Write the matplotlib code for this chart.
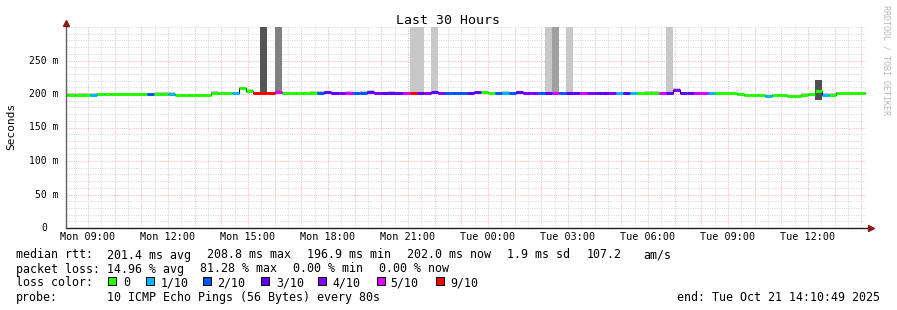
import numpy as np
import pandas as pd
import matplotlib
matplotlib.use('Agg')
import matplotlib.pyplot as plt
import matplotlib.dates as mdates
from matplotlib.patches import Rectangle

# 16 minute consolidated steps, Mon 08:00 .. Tue 14:24
step_start = '2025-10-20 08:00'
n_steps = 114

# median rtt per step (ms)
median_ms = [
    199, 199, 199, 199, 199, 200, 200, 200, 200, 200,
    200, 200, 199.5, 200, 200, 199.5, 198.5, 198.5, 198.5, 198.5,
    198.5, 201.5, 201.5, 201.5, 201, 208.8, 205, 201.5, 201.5, 201.5,
    202.5, 201.5, 201.5, 201.5, 201.5, 201.5, 201.5, 202.5, 202, 201,
    201.5, 201.5, 201.5, 202.5, 201, 201.5, 201.5, 201.5, 201.5, 201.5,
    201, 201.5, 203, 201.5, 201.5, 201.5, 201.5, 201.5, 203, 203.5,
    202, 201.5, 201.5, 201.5, 203, 201.5, 201.5, 201.5, 201.5, 201.5,
    201.5, 201.5, 201.5, 202, 201.5, 201.5, 201.5, 201.5, 201.5, 201.5,
    201.5, 201.5, 201.5, 201.5, 201.5, 201.5, 206.5, 201.5, 201.5, 201.5,
    201.5, 201.5, 201.5, 201, 201, 199.5, 198, 198, 198, 196.9,
    198, 198, 197.3, 197.3, 198, 199.5, 204.5, 198.5, 199, 202,
    202, 202, 202, 202,
]

# lost pings (out of 10) per step
loss = [
    0, 0, 0, 0, 1, 0, 0, 0, 0, 0,
    0, 0, 2, 0, 0, 1, 0, 0, 0, 0,
    0, 0, 0, 0, 1, 0, 0, 9, 9, 9,
    5, 0, 0, 0, 0, 0, 2, 3, 3, 4,
    5, 2, 2, 3, 4, 3, 3, 3, 5, 9,
    3, 4, 3, 4, 2, 2, 2, 3, 3, 0,
    0, 2, 1, 2, 3, 4, 4, 2, 3, 5,
    2, 3, 3, 5, 4, 3, 3, 4, 1, 3,
    1, 0, 0, 0, 5, 3, 4, 3, 3, 5,
    5, 1, 0, 0, 0, 0, 0, 0, 0, 1,
    0, 0, 0, 0, 0, 0, 0, 1, 0, 0,
    0, 0, 0, 0,
]

# upper edge of the light smoke per step (ms)
smoke_hi = [
    201, 201, 201, 201, 201, 201, 201, 201, 202, 202,
    201, 201, 201, 203.5, 203.5, 202.5, 200, 200, 200, 200,
    200, 204, 203, 203, 203, 211, 207, 203, 203, 203,
    204, 203, 203, 203, 203, 204, 204, 204, 203, 203,
    204, 203, 204, 206, 203, 203, 204.5, 203, 203, 203,
    203, 203, 204, 203, 203, 203.5, 203, 203, 204, 204.5,
    203, 203, 204, 203, 204, 203, 203, 203, 203, 203,
    203, 203, 203, 203, 203, 203, 203, 203, 203, 203,
    203, 203, 204, 205, 203, 203, 209, 203, 203, 203,
    203, 203, 203, 202.5, 202, 201, 200, 200, 199.5, 199,
    200, 200.5, 199, 199, 201, 201, 206, 201, 202, 203,
    203, 203, 203, 203,
]

# big smoke columns: step index, bottom, top (ms), shade
spike_step = [28, 30, 49, 50, 52, 68, 69, 71, 85, 106]
spike_lo = [200, 200, 200, 200, 200, 200, 200, 200, 200, 191]
spike_hi = [330, 330, 330, 330, 330, 330, 330, 330, 330, 221]
spike_shade = ['#555555', '#808080', '#c8c8c8', '#c8c8c8', '#c8c8c8',
               '#c8c8c8', '#a0a0a0', '#c8c8c8', '#c8c8c8', '#505050']

loss_codes = [0, 1, 2, 3, 4, 5, 9]
loss_labels = ['0', '1/10', '2/10', '3/10', '4/10', '5/10', '9/10']
loss_colors = ['#26ff00', '#00b8ff', '#0059ff', '#5e00ff', '#7e00ff', '#dd00ff', '#ff0000']

y_ticks = [0, 50, 100, 150, 200, 250]
y_labels = ['0', '50 m', '100 m', '150 m', '200 m', '250 m']

W, H = 897, 310
MONO = 'DejaVu Sans Mono'


def fx(x):
    return x / W


def fy(y):
    return 1 - y / H


fig = plt.figure(figsize=(W / 100, H / 100), dpi=100, facecolor='white')
ax = fig.add_axes([fx(66), fy(228), 800 / W, 201 / H])
ax.set_facecolor('white')

t_edges = mdates.date2num(pd.date_range(step_start, periods=n_steps + 1, freq='16min').to_pydatetime())
t0, t1 = t_edges[:-1], t_edges[1:]
width = t1[0] - t0[0]
x_start = mdates.date2num(pd.Timestamp('2025-10-20 08:10:49').to_pydatetime())
x_end = mdates.date2num(pd.Timestamp('2025-10-21 14:10:49').to_pydatetime())
ax.set_xlim(x_start, x_end)
ax.set_ylim(0, 300)

# grid: grey every 30 min / 10 ms, red every hour / 50 ms
half_hours = mdates.date2num(pd.date_range('2025-10-20 08:30', '2025-10-21 14:00', freq='30min').to_pydatetime())
for t in half_hours:
    is_hour = abs((t * 24) - round(t * 24)) < 1e-6
    ax.axvline(t, color='#f4b4b4' if is_hour else '#d6d6d6', lw=0.72,
               ls=(0, (1, 1.4)), zorder=1)
for v in range(10, 301, 10):
    major = v % 50 == 0 and v <= 250
    ax.axhline(v, color='#f4b4b4' if major else '#d6d6d6', lw=0.72,
               ls=(0, (1, 1.4)), zorder=1)

med = np.array(median_ms)
ax.bar(t0, np.array(smoke_hi) - med, bottom=med, width=width, align='edge',
       color='#c8c8c8', lw=0, zorder=2)
for i, lo, hi, c in zip(spike_step, spike_lo, spike_hi, spike_shade):
    ax.bar(t0[i], hi - lo, bottom=lo, width=width, align='edge', color=c, lw=0, zorder=2)

ax.step(t_edges, np.append(med, med[-1]), where='post', color='black', lw=0.8, zorder=3)
cmap = dict(zip(loss_codes, loss_colors))
ax.hlines(med, t0, t1, colors=[cmap[l] for l in loss], lw=2.2, capstyle='butt', zorder=4)

for s in ax.spines.values():
    s.set_visible(False)

# axis lines with arrows
ax.plot([0, 1.004], [0, 0], transform=ax.transAxes, color='#202020', lw=1, clip_on=False, zorder=5)
ax.plot([0, 0], [0, 1.012], transform=ax.transAxes, color='#606060', lw=1, clip_on=False, zorder=5)
ax.plot([1.0058], [0], transform=ax.transAxes, marker='>', ms=4, color='#8b1a1a', clip_on=False, zorder=6)
ax.plot([0], [1.018], transform=ax.transAxes, marker='^', ms=4, color='#8b1a1a', clip_on=False, zorder=6)

# x ticks
xt = mdates.date2num(pd.date_range('2025-10-20 09:00', '2025-10-21 12:00', freq='3h').to_pydatetime())
ax.set_xticks(xt)
ax.xaxis.set_major_formatter(mdates.DateFormatter('%a %H:%M'))
ax.tick_params(axis='x', length=0, pad=2.6, labelsize=7.3)
for lab in ax.get_xticklabels():
    lab.set_family(MONO)
ax.set_yticks([])

ytr = ax.get_yaxis_transform()
for v, lab in zip(y_ticks, y_labels):
    xoff = -0.0235 if v == 0 else -0.0095
    ax.text(xoff, v, lab, transform=ytr, ha='right', va='center',
            family=MONO, fontsize=7)

fig.text(fx(11), fy(126), 'Seconds', rotation=90, ha='center', va='center',
         family=MONO, fontsize=8)
fig.text(fx(447.5), fy(24), 'Last 30 Hours', ha='center', va='baseline',
         family=MONO, fontsize=9.5)
fig.text(fx(886), fy(60), 'RRDTOOL / TOBI OETIKER', rotation=270, ha='center',
         va='center', family=MONO, fontsize=6, color='#b8b8b8')

# legend block
fs = 8.4
rows = [
    (255, [(16, 'median rtt:'), (107, '201.4 ms avg'), (207, '208.8 ms max'),
           (307, '196.9 ms min'), (407, '202.0 ms now'), (507, '1.9 ms sd'),
           (587, '107.2'), (643, 'am/s')]),
    (269, [(16, 'packet loss:'), (107, '14.96 % avg'), (200, '81.28 % max'),
           (293, '0.00 % min'), (379, '0.00 % now')]),
    (283, [(16, 'loss color:')]),
    (297.5, [(16, 'probe:'), (107, '10 ICMP Echo Pings (56 Bytes) every 80s')]),
]
for y, items in rows:
    for x, s in items:
        fig.text(fx(x), fy(y), s, ha='left', va='center', family=MONO, fontsize=fs)
fig.text(fx(880), fy(297.5), 'end: Tue Oct 21 14:10:49 2025', ha='right', va='center',
         family=MONO, fontsize=fs)

sq_x = [108, 146, 203, 261, 318, 377, 436]
lab_x = [123, 161, 217, 276, 332, 390, 450]
for sx, lx, lab, c in zip(sq_x, lab_x, loss_labels, loss_colors):
    fig.add_artist(Rectangle((fx(sx), fy(284.5)), 8 / W, 8 / H, transform=fig.transFigure,
                             facecolor=c, edgecolor='black', lw=0.7))
    fig.text(fx(lx), fy(283), lab, ha='left', va='center', family=MONO, fontsize=fs)

fig.savefig('out.png', dpi=100, facecolor='white')
